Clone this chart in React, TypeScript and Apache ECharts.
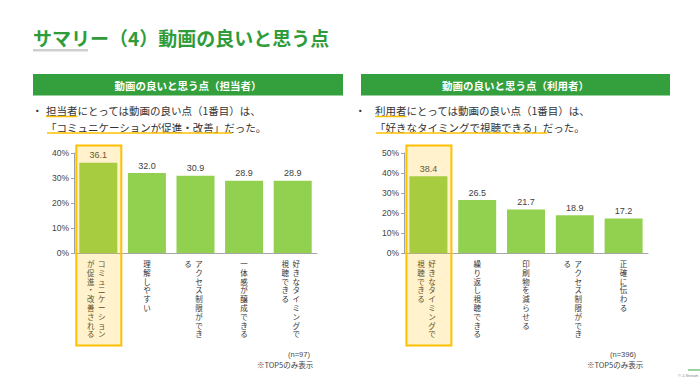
import React, { useEffect, useRef } from 'react';
import * as echarts from 'echarts';

const titleText = 'サマリー（4）動画の良いと思う点';
const leftHeader = '動画の良いと思う点（担当者）';
const rightHeader = '動画の良いと思う点（利用者）';
const leftLine1 = ['担当者', 'にとっては動画の良い点（1番目）は、'];
const leftLine2 = ['「コミュニケーションが促進・改善」', 'だった。'];
const rightLine1 = ['利用者', 'にとっては動画の良い点（1番目）は、'];
const rightLine2 = ['「好きなタイミングで視聴できる」', 'だった。'];

const leftCategories = [
  'コミュニケーションが促進・改善される',
  '理解しやすい',
  'アクセス制限ができる',
  '一体感が醸成できる',
  '好きなタイミングで視聴できる',
];
const leftValues = [36.1, 32.0, 30.9, 28.9, 28.9];
const leftMax = 40;
const leftN = '(n=97)';

const rightCategories = [
  '好きなタイミングで視聴できる',
  '繰り返し視聴できる',
  '印刷物を減らせる',
  'アクセス制限ができる',
  '正確に伝わる',
];
const rightValues = [38.4, 26.5, 21.7, 18.9, 17.2];
const rightMax = 50;
const rightN = '(n=396)';

const noteText = '※TOP5のみ表示';
const copyright = '© J-Stream';

const JP = '"Noto Sans CJK JP", "Noto Sans", sans-serif';
const NUM = '"Liberation Sans", Arial, "Noto Sans CJK JP", sans-serif';
const GREEN = '#2f9c3b';
const BAR = '#92D050';
const ORANGE = '#FFC000';

const COL = 9;
function columns(s: string): string[] {
  const chars = Array.from(s);
  const out: string[] = [];
  for (let i = 0; i < chars.length; i += COL) out.push(chars.slice(i, i + COL).join(''));
  return out;
}
function vert(s: string) {
  return Array.from(s).join('\n');
}

const LBL = { fontSize: 7.5, lineHeight: 8.8, color: '#333', fontFamily: JP };
const labelRich = {
  s: { ...LBL },
  r: { ...LBL, padding: [0, 0, 0, 7] },
  l: { ...LBL, padding: [0, 15, 0, 0] },
};

function mainAxis(cats: string[], gridIndex: number) {
  return {
    type: 'category',
    gridIndex,
    position: 'bottom',
    data: cats,
    axisLine: { show: true, lineStyle: { color: '#a6a6a6', width: 1 } },
    axisTick: { show: false },
    axisLabel: {
      interval: 0,
      margin: 6,
      formatter: (v: string) => {
        const c = columns(v);
        return c.length > 1 ? `{r|${vert(c[0])}}` : `{s|${vert(c[0])}}`;
      },
      rich: labelRich,
    },
  };
}
function secondAxis(cats: string[], gridIndex: number) {
  return {
    type: 'category',
    gridIndex,
    position: 'bottom',
    data: cats,
    axisLine: { show: false },
    axisTick: { show: false },
    splitLine: { show: false },
    axisLabel: {
      interval: 0,
      margin: 6,
      formatter: (v: string) => {
        const c = columns(v);
        return c.length > 1 ? `{l|${vert(c[1])}}` : '';
      },
      rich: labelRich,
    },
  };
}
function valueAxis(max: number, gridIndex: number) {
  return {
    type: 'value',
    gridIndex,
    min: 0,
    max,
    interval: 10,
    axisLine: { show: true, lineStyle: { color: '#9aa3b3', width: 1 } },
    axisTick: { show: true, length: 3, lineStyle: { color: '#9aa3b3' } },
    splitLine: { show: false },
    axisLabel: { formatter: '{value}%', fontSize: 8.5, color: '#444', fontFamily: NUM, margin: 5 },
  };
}
function barSeries(values: number[], idx: number) {
  return {
    type: 'bar',
    xAxisIndex: idx * 2,
    yAxisIndex: idx,
    barWidth: 38,
    data: values,
    itemStyle: { color: BAR },
    label: {
      show: true,
      position: 'top',
      distance: 3,
      fontSize: 9,
      color: '#404040',
      fontFamily: NUM,
      formatter: (p: any) => Number(p.value).toFixed(1),
    },
  };
}

function txt(text: string, x: number, y: number, size: number, fill: string, extra: any = {}) {
  return {
    type: 'text',
    x,
    y,
    silent: true,
    style: {
      text,
      fill,
      fontSize: size,
      fontFamily: JP,
      verticalAlign: 'middle',
      align: 'left',
      ...extra,
    },
  };
}
function uline(x1: number, x2: number, y: number) {
  return {
    type: 'line',
    silent: true,
    shape: { x1, y1: y, x2, y2: y },
    style: { stroke: ORANGE, lineWidth: 1.5 },
  };
}

export default function App() {
  const ref = useRef<HTMLDivElement>(null);
  useEffect(() => {
    if (!ref.current) return;
    const chart = echarts.init(ref.current, undefined, { renderer: 'svg' });
    chart.setOption({
      animation: false,
      backgroundColor: '#ffffff',
      grid: [
        { left: 74, top: 153, width: 243, height: 100, containLabel: false },
        { left: 404, top: 153, width: 244, height: 100, containLabel: false },
      ],
      xAxis: [
        mainAxis(leftCategories, 0),
        secondAxis(leftCategories, 0),
        mainAxis(rightCategories, 1),
        secondAxis(rightCategories, 1),
      ],
      yAxis: [valueAxis(leftMax, 0), valueAxis(rightMax, 1)],
      series: [barSeries(leftValues, 0), barSeries(rightValues, 1)],
    });

    const fs = 10.5;
    const pL = chart.convertToPixel({ seriesIndex: 0 }, [0, leftMax]) as number[];
    const pR = chart.convertToPixel({ seriesIndex: 1 }, [0, rightMax]) as number[];
    const box = (p: number[]) => ({
      type: 'rect',
      silent: true,
      z: 100,
      shape: { x: p[0] - 22, y: p[1] - 7.5, width: 45, height: 200 },
      style: { fill: 'rgba(255,192,0,0.2)', stroke: ORANGE, lineWidth: 2 },
    });

    chart.setOption({
      graphic: [
        txt(titleText, 33, 37, 19, GREEN, { fontWeight: 'bold' }),
        {
          type: 'rect',
          silent: true,
          shape: { x: 33, y: 49, width: 55, height: 2.5 },
          style: { fill: '#cfcfcf' },
        },
        {
          type: 'rect',
          silent: true,
          shape: { x: 33, y: 74, width: 310, height: 21.5 },
          style: { fill: '#34a03d' },
        },
        txt(leftHeader, 188, 85, 10.5, '#ffffff', { fontWeight: 'bold', align: 'center' }),
        {
          type: 'rect',
          silent: true,
          shape: { x: 361, y: 74, width: 309, height: 21.5 },
          style: { fill: '#34a03d' },
        },
        txt(rightHeader, 515.5, 85, 10.5, '#ffffff', { fontWeight: 'bold', align: 'center' }),

        txt('・', 32, 110, fs, '#333'),
        txt(leftLine1.join(''), 46, 110, fs, '#333'),
        txt(leftLine2.join(''), 46, 127, fs, '#333'),
        uline(46, 46 + Array.from(leftLine1[0]).length * fs, 116.5),
        uline(47, 232, 133),

        txt('・', 355, 110, fs, '#333'),
        txt(rightLine1.join(''), 375, 110, fs, '#333'),
        txt(rightLine2.join(''), 375, 127, fs, '#333'),
        uline(375, 375 + Array.from(rightLine1[0]).length * fs, 116.5),
        uline(376, 547, 133),

        txt(leftN, 288, 354, 7.5, '#444', { fontFamily: NUM }),
        txt(noteText, 257, 364, 7.5, '#444'),
        txt(rightN, 610, 354, 7.5, '#444', { fontFamily: NUM }),
        txt(noteText, 587, 364, 7.5, '#444'),

        {
          type: 'line',
          silent: true,
          shape: { x1: 688, y1: 370, x2: 700, y2: 370 },
          style: { stroke: '#3aa845', lineWidth: 1 },
        },
        txt(copyright, 678, 375, 4, '#888', { fontFamily: NUM }),

        box(pL),
        box(pR),
      ],
    });
    return () => chart.dispose();
  }, []);
  return (
    <div
      ref={ref}
      style={{ position: 'fixed', left: 0, top: 0, width: 700, height: 390, background: '#fff' }}
    />
  );
}
